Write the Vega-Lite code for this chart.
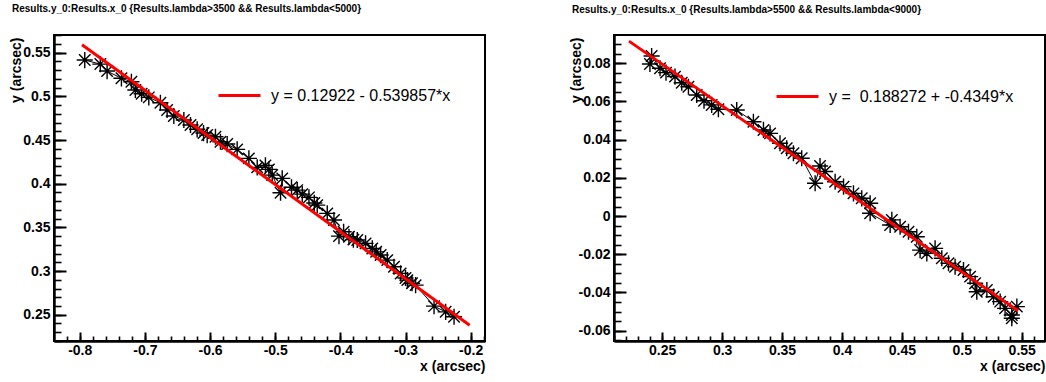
{
  "$schema": "https://vega.github.io/schema/vega-lite/v6.json",
  "background": "white",
  "padding": {"left": 7, "top": 3, "right": 0, "bottom": 0},
  "config": {
    "font": "Liberation Sans",
    "view": {"stroke": "black", "strokeWidth": 2},
    "axis": {
      "grid": false,
      "zindex": 1,
      "domainColor": "black",
      "domainWidth": 2.5,
      "tickColor": "black",
      "ticks": true,
      "labelColor": "black",
      "labelFont": "Liberation Sans",
      "labelFontWeight": "bold",
      "labelFontSize": 14,
      "titleFont": "Liberation Sans",
      "titleFontWeight": "bold",
      "titleFontSize": 14,
      "titleColor": "black"
    },
    "title": {"font": "Liberation Sans", "fontSize": 10, "fontWeight": "bold", "color": "black", "anchor": "start", "frame": "group", "dx": -42, "offset": 20}
  },
  "datasets": {
    "leftPts": [
      {"x": -0.7923, "y": 0.5416}, {"x": -0.7684, "y": 0.537}, {"x": -0.758, "y": 0.529}, {"x": -0.736, "y": 0.5207},
      {"x": -0.7207, "y": 0.5168}, {"x": -0.7146, "y": 0.5073}, {"x": -0.705, "y": 0.503}, {"x": -0.694, "y": 0.4989},
      {"x": -0.6762, "y": 0.4927}, {"x": -0.6659, "y": 0.4844}, {"x": -0.6556, "y": 0.4775}, {"x": -0.6402, "y": 0.4729},
      {"x": -0.63, "y": 0.4672}, {"x": -0.6198, "y": 0.4623}, {"x": -0.61, "y": 0.458}, {"x": -0.6044, "y": 0.4557},
      {"x": -0.5917, "y": 0.4538}, {"x": -0.584, "y": 0.448}, {"x": -0.5737, "y": 0.4454}, {"x": -0.5584, "y": 0.4393},
      {"x": -0.5404, "y": 0.429}, {"x": -0.5276, "y": 0.4187}, {"x": -0.515, "y": 0.421}, {"x": -0.5097, "y": 0.4164},
      {"x": -0.5046, "y": 0.4099}, {"x": -0.4918, "y": 0.3896}, {"x": -0.4892, "y": 0.4061}, {"x": -0.475, "y": 0.396},
      {"x": -0.4662, "y": 0.3927}, {"x": -0.4585, "y": 0.3881}, {"x": -0.4482, "y": 0.3844}, {"x": -0.44, "y": 0.378},
      {"x": -0.4355, "y": 0.3755}, {"x": -0.4201, "y": 0.366}, {"x": -0.4098, "y": 0.3584}, {"x": -0.4021, "y": 0.34},
      {"x": -0.395, "y": 0.345}, {"x": -0.3868, "y": 0.3392}, {"x": -0.38, "y": 0.336}, {"x": -0.374, "y": 0.3355},
      {"x": -0.3613, "y": 0.3317}, {"x": -0.351, "y": 0.3259}, {"x": -0.345, "y": 0.322}, {"x": -0.3382, "y": 0.3183},
      {"x": -0.328, "y": 0.3125}, {"x": -0.3177, "y": 0.3049}, {"x": -0.3075, "y": 0.2973}, {"x": -0.3, "y": 0.292},
      {"x": -0.2972, "y": 0.2896}, {"x": -0.29, "y": 0.286}, {"x": -0.2845, "y": 0.2839}, {"x": -0.2562, "y": 0.2598},
      {"x": -0.2384, "y": 0.2533}, {"x": -0.2255, "y": 0.2476}
    ],
    "leftFit": [
      {"x": -0.7965, "y": 0.55921, "eq": "y = 0.12922 - 0.539857*x"},
      {"x": -0.2015, "y": 0.238, "eq": "y = 0.12922 - 0.539857*x"}
    ],
    "rightPts": [
      {"x": 0.2398, "y": 0.0796}, {"x": 0.2412, "y": 0.0838}, {"x": 0.2482, "y": 0.0774}, {"x": 0.2532, "y": 0.0751},
      {"x": 0.2607, "y": 0.073}, {"x": 0.2663, "y": 0.0698}, {"x": 0.2719, "y": 0.0677}, {"x": 0.2788, "y": 0.0634},
      {"x": 0.2849, "y": 0.0604}, {"x": 0.2913, "y": 0.0582}, {"x": 0.2969, "y": 0.0559}, {"x": 0.3122, "y": 0.0555},
      {"x": 0.3261, "y": 0.0494}, {"x": 0.3345, "y": 0.0451}, {"x": 0.34, "y": 0.0433}, {"x": 0.3483, "y": 0.0381},
      {"x": 0.3539, "y": 0.0355}, {"x": 0.3595, "y": 0.0329}, {"x": 0.3664, "y": 0.0303}, {"x": 0.3776, "y": 0.0172},
      {"x": 0.3817, "y": 0.0262}, {"x": 0.3859, "y": 0.0233}, {"x": 0.3943, "y": 0.018}, {"x": 0.4013, "y": 0.0154},
      {"x": 0.4096, "y": 0.0119}, {"x": 0.4165, "y": 0.0093}, {"x": 0.4235, "y": 0.0067}, {"x": 0.4235, "y": 0.0015},
      {"x": 0.4402, "y": -0.0047}, {"x": 0.4416, "y": -0.002}, {"x": 0.4485, "y": -0.0056}, {"x": 0.4555, "y": -0.0082},
      {"x": 0.4624, "y": -0.0108}, {"x": 0.4652, "y": -0.0178}, {"x": 0.4708, "y": -0.0195}, {"x": 0.4777, "y": -0.0169},
      {"x": 0.4833, "y": -0.0221}, {"x": 0.4889, "y": -0.0247}, {"x": 0.4944, "y": -0.0265}, {"x": 0.5014, "y": -0.0282},
      {"x": 0.5069, "y": -0.0317}, {"x": 0.5111, "y": -0.0352}, {"x": 0.5125, "y": -0.0396}, {"x": 0.5209, "y": -0.0387},
      {"x": 0.5265, "y": -0.0422}, {"x": 0.532, "y": -0.0448}, {"x": 0.5361, "y": -0.0483}, {"x": 0.5417, "y": -0.0518},
      {"x": 0.5417, "y": -0.0535}, {"x": 0.5459, "y": -0.0474}
    ],
    "rightFit": [
      {"x": 0.2223, "y": 0.091594, "eq": "y = \u00a00.188272 + -0.4349*x"},
      {"x": 0.547, "y": -0.049618, "eq": "y = \u00a00.188272 + -0.4349*x"}
    ]
  },
  "hconcat": [
    {
      "width": 431,
      "height": 306,
      "title": {"text": "Results.y_0:Results.x_0 {Results.lambda>3500 && Results.lambda<5000}"},
      "layer": [
        {
          "data": {"name": "leftPts"},
          "mark": {"type": "line", "color": "black", "strokeWidth": 1},
          "encoding": {
            "x": {"field": "x", "type": "quantitative", "scale": {"domain": [-0.8395, -0.178], "nice": false, "zero": false},
              "axis": {"orient": "bottom", "values": [-0.82,-0.8,-0.78,-0.76,-0.74,-0.72,-0.7,-0.68,-0.66,-0.64,-0.62,-0.6,-0.58,-0.56,-0.54,-0.52,-0.5,-0.48,-0.46,-0.44,-0.42,-0.4,-0.38,-0.36,-0.34,-0.32,-0.3,-0.28,-0.26,-0.24,-0.22,-0.2,-0.18], "tickSize": -5, "tickWidth": 1.6, "labels": false, "domain": false, "title": null}},
            "y": {"field": "y", "type": "quantitative", "scale": {"domain": [0.2199, 0.5703], "nice": false, "zero": false},
              "axis": {"orient": "left", "values": [0.22,0.23,0.24,0.25,0.26,0.27,0.28,0.29,0.3,0.31,0.32,0.33,0.34,0.35,0.36,0.37,0.38,0.39,0.4,0.41,0.42,0.43,0.44,0.45,0.46,0.47,0.48,0.49,0.5,0.51,0.52,0.53,0.54,0.55,0.56,0.57], "tickSize": -7, "tickWidth": 1.6, "labels": false, "domain": false, "title": null}}
          }
        },
        {
          "data": {"name": "leftPts"},
          "mark": {"type": "point", "shape": "M-1,0L1,0M0,-1L0,1M-0.71,-0.71L0.71,0.71M-0.71,0.71L0.71,-0.71", "filled": false, "stroke": "black", "strokeWidth": 1.4, "size": 260, "opacity": 1},
          "encoding": {
            "x": {"field": "x", "type": "quantitative", "scale": {"domain": [-0.8395, -0.178], "nice": false, "zero": false},
              "axis": {"orient": "bottom", "values": [-0.8,-0.7,-0.6,-0.5,-0.4,-0.3,-0.2], "labelExpr": "'' + datum.value", "tickSize": -9, "tickWidth": 2, "labelPadding": 11, "title": "x (arcsec)", "titleX": 431, "titleY": 25, "titleAlign": "right", "titleBaseline": "middle", "titleAnchor": null}},
            "y": {"field": "y", "type": "quantitative", "scale": {"domain": [0.2199, 0.5703], "nice": false, "zero": false},
              "axis": {"orient": "left", "values": [0.25,0.3,0.35,0.4,0.45,0.5,0.55], "labelExpr": "'' + datum.value", "tickSize": -12, "tickWidth": 2, "labelPadding": 16, "title": "y (arcsec)", "titleX": -38, "titleY": 2, "titleAngle": -90, "titleAlign": "right", "titleBaseline": "middle", "titleAnchor": null}}
          }
        },
        {
          "data": {"name": "leftFit"},
          "mark": {"type": "line", "strokeWidth": 3},
          "encoding": {
            "x": {"field": "x", "type": "quantitative", "scale": {"domain": [-0.8395, -0.178], "nice": false, "zero": false}, "axis": null},
            "y": {"field": "y", "type": "quantitative", "scale": {"domain": [0.2199, 0.5703], "nice": false, "zero": false}, "axis": null},
            "color": {"field": "eq", "type": "nominal", "scale": {"range": ["#ff0000"]},
              "legend": {"orient": "none", "legendX": 163, "legendY": 38, "title": null, "symbolType": "stroke", "symbolSize": 1764, "symbolStrokeWidth": 3, "labelFontSize": 16, "labelFont": "Liberation Sans", "labelColor": "black", "labelOffset": 9, "labelLimit": 0, "padding": 0}}
          }
        }
      ],
      "resolve": {"axis": {"x": "independent", "y": "independent"}}
    },
    {
      "width": 431,
      "height": 306,
      "title": {"text": "Results.y_0:Results.x_0 {Results.lambda>5500 && Results.lambda<9000}"},
      "layer": [
        {
          "data": {"name": "rightPts"},
          "mark": {"type": "line", "color": "black", "strokeWidth": 1},
          "encoding": {
            "x": {"field": "x", "type": "quantitative", "scale": {"domain": [0.2098, 0.5694], "nice": false, "zero": false},
              "axis": {"orient": "bottom", "values": [0.21,0.22,0.23,0.24,0.25,0.26,0.27,0.28,0.29,0.3,0.31,0.32,0.33,0.34,0.35,0.36,0.37,0.38,0.39,0.4,0.41,0.42,0.43,0.44,0.45,0.46,0.47,0.48,0.49,0.5,0.51,0.52,0.53,0.54,0.55,0.56], "tickSize": -5, "tickWidth": 1.6, "labels": false, "domain": false, "title": null}},
            "y": {"field": "y", "type": "quantitative", "scale": {"domain": [-0.0654, 0.0948], "nice": false, "zero": false},
              "axis": {"orient": "left", "values": [-0.065,-0.06,-0.055,-0.05,-0.045,-0.04,-0.035,-0.03,-0.025,-0.02,-0.015,-0.01,-0.005,0,0.005,0.01,0.015,0.02,0.025,0.03,0.035,0.04,0.045,0.05,0.055,0.06,0.065,0.07,0.075,0.08,0.085,0.09], "tickSize": -7, "tickWidth": 1.6, "labels": false, "domain": false, "title": null}}
          }
        },
        {
          "data": {"name": "rightPts"},
          "mark": {"type": "point", "shape": "M-1,0L1,0M0,-1L0,1M-0.71,-0.71L0.71,0.71M-0.71,0.71L0.71,-0.71", "filled": false, "stroke": "black", "strokeWidth": 1.4, "size": 260, "opacity": 1},
          "encoding": {
            "x": {"field": "x", "type": "quantitative", "scale": {"domain": [0.2098, 0.5694], "nice": false, "zero": false},
              "axis": {"orient": "bottom", "values": [0.25,0.3,0.35,0.4,0.45,0.5,0.55], "labelExpr": "'' + datum.value", "tickSize": -9, "tickWidth": 2, "labelPadding": 11, "title": "x (arcsec)", "titleX": 431, "titleY": 25, "titleAlign": "right", "titleBaseline": "middle", "titleAnchor": null}},
            "y": {"field": "y", "type": "quantitative", "scale": {"domain": [-0.0654, 0.0948], "nice": false, "zero": false},
              "axis": {"orient": "left", "values": [-0.06,-0.04,-0.02,0,0.02,0.04,0.06,0.08], "labelExpr": "'' + datum.value", "tickSize": -12, "tickWidth": 2, "labelPadding": 16, "title": "y (arcsec)", "titleX": -38, "titleY": 2, "titleAngle": -90, "titleAlign": "right", "titleBaseline": "middle", "titleAnchor": null}}
          }
        },
        {
          "data": {"name": "rightFit"},
          "mark": {"type": "line", "strokeWidth": 3},
          "encoding": {
            "x": {"field": "x", "type": "quantitative", "scale": {"domain": [0.2098, 0.5694], "nice": false, "zero": false}, "axis": null},
            "y": {"field": "y", "type": "quantitative", "scale": {"domain": [-0.0654, 0.0948], "nice": false, "zero": false}, "axis": null},
            "color": {"field": "eq", "type": "nominal", "scale": {"range": ["#ff0000"]},
              "legend": {"orient": "none", "legendX": 161, "legendY": 39, "title": null, "symbolType": "stroke", "symbolSize": 1764, "symbolStrokeWidth": 3, "labelFontSize": 16, "labelFont": "Liberation Sans", "labelColor": "black", "labelOffset": 9, "labelLimit": 0, "padding": 0}}
          }
        }
      ],
      "resolve": {"axis": {"x": "independent", "y": "independent"}}
    }
  ],
  "spacing": 129,
  "bounds": "flush",
  "resolve": {"scale": {"color": "independent"}}
}
